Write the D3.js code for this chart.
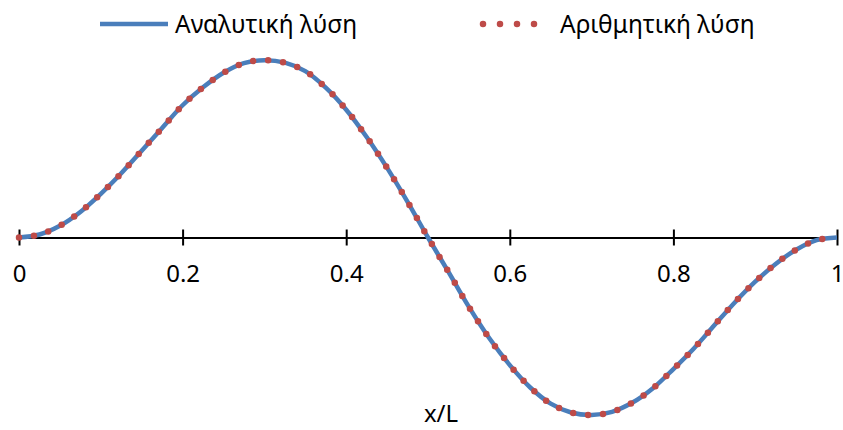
<!DOCTYPE html>
<html>
<head>
<meta charset="utf-8">
<script src="https://cdn.jsdelivr.net/npm/d3@7/dist/d3.min.js"></script>
<style>
  html, body { margin: 0; padding: 0; background: #ffffff; }
  svg { display: block; }
  text { font-family: "Noto Sans", "Open Sans", sans-serif; fill: #000; }
</style>
</head>
<body>
<svg id="chart" width="843" height="430"></svg>
<script>
// Positions along the beam (x/L)
const xValues = [0, 0.025, 0.05, 0.075, 0.1, 0.125, 0.15, 0.175, 0.2, 0.225,
                 0.25, 0.275, 0.3, 0.325, 0.35, 0.375, 0.4, 0.425, 0.45, 0.475,
                 0.5, 0.525, 0.55, 0.575, 0.6, 0.625, 0.65, 0.675, 0.7, 0.725,
                 0.75, 0.775, 0.8, 0.825, 0.85, 0.875, 0.9, 0.925, 0.95, 0.975, 1];

// Analytical solution (normalised)
const analytic = [0, 0.017, 0.066, 0.144, 0.246, 0.362, 0.489, 0.617, 0.745, 0.846,
                  0.928, 0.982, 0.999, 0.985, 0.937, 0.844, 0.720, 0.566, 0.392, 0.201,
                  0, -0.194, -0.391, -0.568, -0.719, -0.845, -0.936, -0.986, -1.0, -0.982,
                  -0.930, -0.849, -0.741, -0.625, -0.495, -0.366, -0.249, -0.149, -0.069, -0.015, 0];

// Numerical solution (normalised)
const numeric = [0, 0.017, 0.066, 0.144, 0.246, 0.362, 0.489, 0.617, 0.745, 0.846,
                 0.928, 0.982, 0.999, 0.985, 0.937, 0.844, 0.720, 0.566, 0.392, 0.201,
                 0, -0.194, -0.391, -0.568, -0.719, -0.845, -0.936, -0.986, -1.0, -0.982,
                 -0.930, -0.849, -0.741, -0.625, -0.495, -0.366, -0.249, -0.149, -0.069, -0.015, 0];

const tickValues = [0, 0.2, 0.4, 0.6, 0.8, 1];
const tickLabels = ["0", "0.2", "0.4", "0.6", "0.8", "1"];
const seriesNames = ["Αναλυτική λύση", "Αριθμητική λύση"];
const axisTitle = "x/L";

const svg = d3.select("#chart");
svg.append("rect").attr("width", 843).attr("height", 430).attr("fill", "#ffffff");

const x = d3.scaleLinear().domain([0, 1]).range([19, 837]);
const y = d3.scaleLinear().domain([-1, 1]).range([415, 60]);

// x axis through y = 0, ticks crossing the line
const axis = d3.axisBottom(x)
  .tickValues(tickValues)
  .tickFormat((d, i) => tickLabels[i])
  .tickSizeOuter(0);

const gAxis = svg.append("g")
  .attr("transform", `translate(0,${y(0)})`)
  .call(axis);
gAxis.select(".domain").attr("stroke", "#000").attr("stroke-width", 2);
gAxis.selectAll(".tick line")
  .attr("stroke", "#000").attr("stroke-width", 2)
  .attr("y1", -8).attr("y2", 8);
gAxis.selectAll(".tick text")
  .attr("y", 44).attr("dy", 0)
  .style("font-family", "'Noto Sans', sans-serif")
  .style("font-size", "24px")
  .attr("fill", "#000");

const pts = xValues.map((d, i) => [d, analytic[i]]);
const ptsNum = xValues.map((d, i) => [d, numeric[i]]);

const line = d3.line()
  .x(d => x(d[0]))
  .y(d => y(d[1]))
  .curve(d3.curveCatmullRom.alpha(0.5));

svg.append("path")
  .datum(pts)
  .attr("d", line)
  .attr("fill", "none")
  .attr("stroke", "#4A7EBB")
  .attr("stroke-width", 4.5);

svg.append("path")
  .datum(ptsNum)
  .attr("d", line)
  .attr("fill", "none")
  .attr("stroke", "#BE4B48")
  .attr("stroke-width", 6.5)
  .attr("stroke-linecap", "round")
  .attr("stroke-dasharray", "0,15");

// Axis title
svg.append("text")
  .attr("x", 441).attr("y", 422)
  .attr("text-anchor", "middle")
  .style("font-size", "24px")
  .text(axisTitle);

// Legend
const legend = svg.append("g");
legend.append("line")
  .attr("x1", 100).attr("x2", 168).attr("y1", 24).attr("y2", 24)
  .attr("stroke", "#4A7EBB").attr("stroke-width", 4.5);
legend.append("text")
  .attr("x", 175).attr("y", 33)
  .style("font-size", "24.5px")
  .text(seriesNames[0]);
legend.append("line")
  .attr("x1", 483).attr("x2", 551).attr("y1", 24).attr("y2", 24)
  .attr("stroke", "#BE4B48").attr("stroke-width", 6.5)
  .attr("stroke-linecap", "round")
  .attr("stroke-dasharray", "0,17");
legend.append("text")
  .attr("x", 560).attr("y", 33)
  .style("font-size", "24.5px")
  .text(seriesNames[1]);
</script>
</body>
</html>
